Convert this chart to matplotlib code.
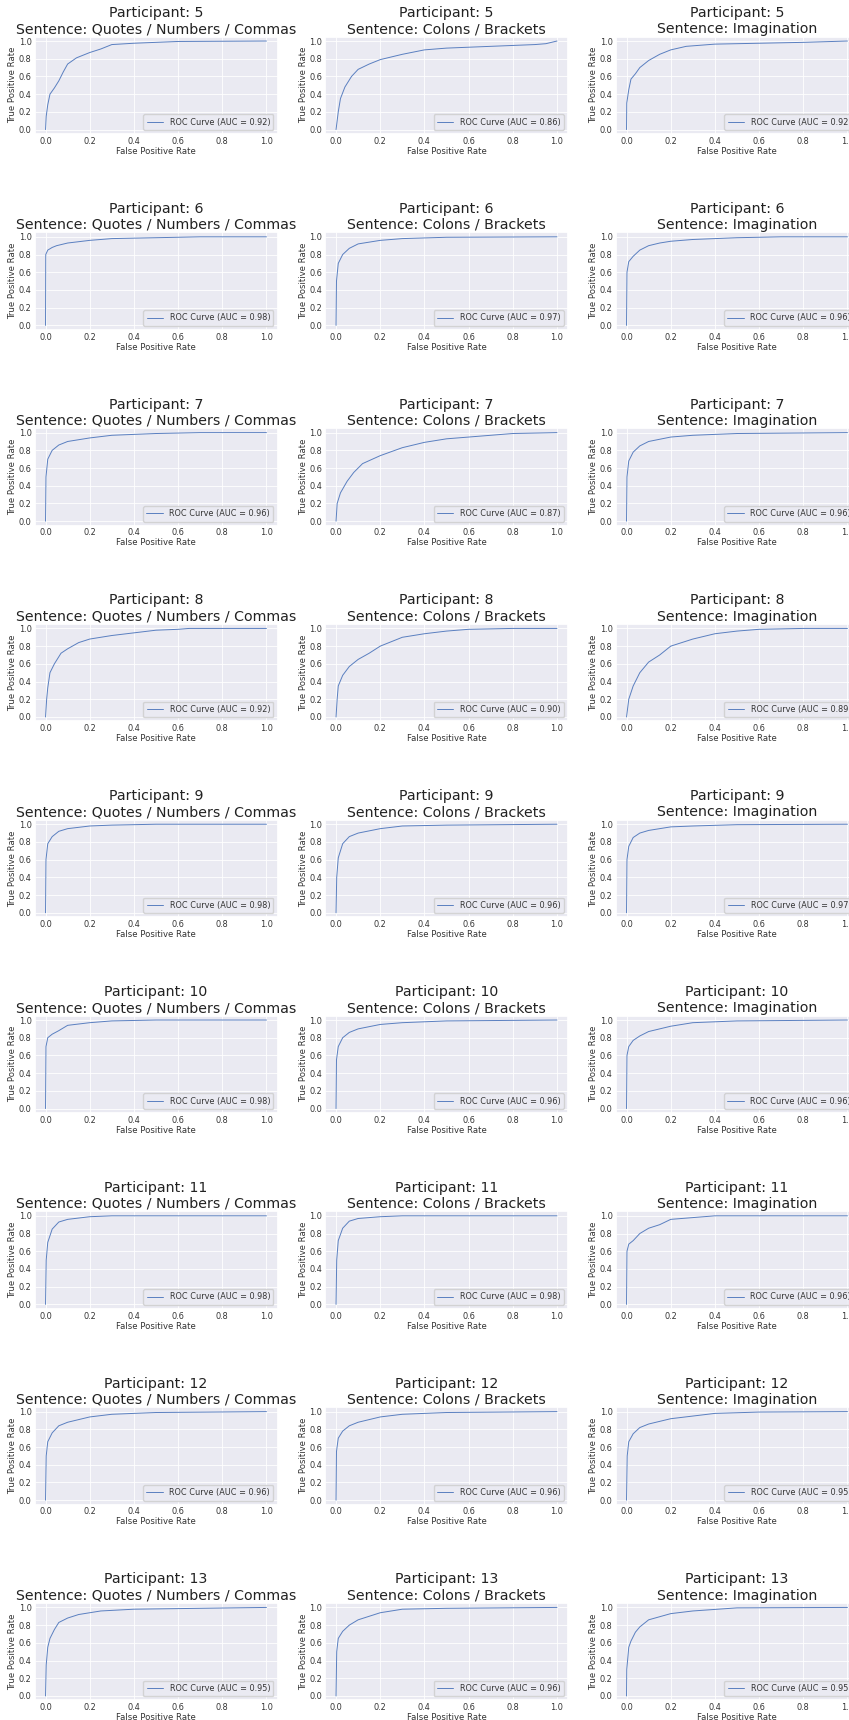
import matplotlib
matplotlib.use("Agg")
import matplotlib.pyplot as plt
import seaborn as sns

sns.set_theme(style="darkgrid")
plt.rcParams['font.family'] = ['DejaVu Sans']
plt.rcParams['grid.linewidth'] = 0.6

participants = [5, 6, 7, 8, 9, 10, 11, 12, 13]
sentences = ["Quotes / Numbers / Commas", "Colons / Brackets", "Imagination"]

auc = [
    [0.92, 0.86, 0.92],
    [0.98, 0.97, 0.96],
    [0.96, 0.87, 0.96],
    [0.92, 0.90, 0.89],
    [0.98, 0.96, 0.97],
    [0.98, 0.96, 0.96],
    [0.98, 0.98, 0.96],
    [0.96, 0.96, 0.95],
    [0.95, 0.96, 0.95],
]

# ROC curves (fpr, tpr)
p5_q_fpr = [0, 0.003, 0.01, 0.02, 0.04, 0.06, 0.08, 0.1, 0.14, 0.2, 0.25, 0.3, 0.4, 0.6, 1.0]
p5_q_tpr = [0, 0.15, 0.28, 0.4, 0.47, 0.55, 0.65, 0.74, 0.81, 0.87, 0.91, 0.96, 0.975, 0.995, 1.0]
p5_c_fpr = [0, 0.01, 0.02, 0.04, 0.07, 0.1, 0.15, 0.2, 0.3, 0.4, 0.5, 0.6, 0.7, 0.8, 0.9, 0.95, 1.0]
p5_c_tpr = [0, 0.2, 0.35, 0.48, 0.6, 0.68, 0.74, 0.79, 0.85, 0.9, 0.92, 0.93, 0.94, 0.95, 0.96, 0.97, 1.0]
p5_i_fpr = [0, 0.001, 0.01, 0.02, 0.04, 0.06, 0.1, 0.15, 0.2, 0.27, 0.4, 0.6, 0.8, 1.0]
p5_i_tpr = [0, 0.3, 0.45, 0.57, 0.63, 0.7, 0.78, 0.85, 0.9, 0.94, 0.965, 0.975, 0.985, 1.0]

p6_q_fpr = [0, 0.001, 0.01, 0.03, 0.05, 0.1, 0.2, 0.3, 0.5, 0.7, 1.0]
p6_q_tpr = [0, 0.8, 0.85, 0.88, 0.9, 0.93, 0.96, 0.98, 0.99, 1.0, 1.0]
p6_c_fpr = [0, 0.002, 0.01, 0.03, 0.06, 0.1, 0.2, 0.3, 0.5, 1.0]
p6_c_tpr = [0, 0.5, 0.7, 0.8, 0.87, 0.92, 0.96, 0.98, 0.995, 1.0]
p6_i_fpr = [0, 0.002, 0.01, 0.03, 0.06, 0.1, 0.15, 0.2, 0.3, 0.5, 0.7, 1.0]
p6_i_tpr = [0, 0.6, 0.72, 0.78, 0.85, 0.9, 0.93, 0.95, 0.97, 0.99, 1.0, 1.0]

p7_q_fpr = [0, 0.002, 0.01, 0.03, 0.06, 0.1, 0.2, 0.3, 0.5, 0.7, 1.0]
p7_q_tpr = [0, 0.5, 0.7, 0.8, 0.86, 0.9, 0.94, 0.97, 0.99, 1.0, 1.0]
p7_c_fpr = [0, 0.005, 0.02, 0.05, 0.08, 0.12, 0.2, 0.3, 0.4, 0.5, 0.6, 0.7, 0.8, 1.0]
p7_c_tpr = [0, 0.2, 0.32, 0.45, 0.55, 0.65, 0.74, 0.83, 0.89, 0.93, 0.95, 0.97, 0.99, 1.0]
p7_i_fpr = [0, 0.002, 0.01, 0.03, 0.06, 0.1, 0.2, 0.3, 0.5, 1.0]
p7_i_tpr = [0, 0.5, 0.68, 0.78, 0.85, 0.9, 0.95, 0.97, 0.99, 1.0]

p8_q_fpr = [0, 0.005, 0.01, 0.02, 0.04, 0.07, 0.1, 0.15, 0.2, 0.3, 0.4, 0.5, 0.6, 0.65, 1.0]
p8_q_tpr = [0, 0.2, 0.33, 0.5, 0.6, 0.72, 0.77, 0.84, 0.88, 0.92, 0.95, 0.98, 0.99, 1.0, 1.0]
p8_c_fpr = [0, 0.005, 0.01, 0.03, 0.06, 0.1, 0.15, 0.2, 0.3, 0.4, 0.5, 0.6, 0.8, 1.0]
p8_c_tpr = [0, 0.2, 0.35, 0.47, 0.57, 0.65, 0.72, 0.8, 0.9, 0.94, 0.97, 0.99, 1.0, 1.0]
p8_i_fpr = [0, 0.01, 0.03, 0.06, 0.1, 0.15, 0.2, 0.3, 0.4, 0.5, 0.6, 0.8, 1.0]
p8_i_tpr = [0, 0.2, 0.35, 0.5, 0.62, 0.7, 0.8, 0.88, 0.94, 0.97, 0.99, 1.0, 1.0]

p9_q_fpr = [0, 0.002, 0.01, 0.03, 0.06, 0.1, 0.2, 0.3, 0.5, 1.0]
p9_q_tpr = [0, 0.6, 0.78, 0.86, 0.92, 0.95, 0.98, 0.99, 1.0, 1.0]
p9_c_fpr = [0, 0.003, 0.01, 0.03, 0.06, 0.1, 0.2, 0.3, 0.5, 1.0]
p9_c_tpr = [0, 0.4, 0.62, 0.78, 0.86, 0.9, 0.95, 0.98, 0.99, 1.0]
p9_i_fpr = [0, 0.002, 0.01, 0.03, 0.06, 0.1, 0.2, 0.3, 0.5, 1.0]
p9_i_tpr = [0, 0.6, 0.75, 0.85, 0.9, 0.93, 0.97, 0.98, 0.995, 1.0]

p10_q_fpr = [0, 0.002, 0.01, 0.03, 0.06, 0.1, 0.2, 0.3, 0.5, 1.0]
p10_q_tpr = [0, 0.7, 0.8, 0.84, 0.88, 0.94, 0.97, 0.99, 1.0, 1.0]
p10_c_fpr = [0, 0.002, 0.01, 0.03, 0.06, 0.1, 0.2, 0.3, 0.5, 1.0]
p10_c_tpr = [0, 0.55, 0.7, 0.8, 0.86, 0.9, 0.95, 0.97, 0.99, 1.0]
p10_i_fpr = [0, 0.002, 0.01, 0.03, 0.06, 0.1, 0.2, 0.3, 0.5, 1.0]
p10_i_tpr = [0, 0.6, 0.7, 0.77, 0.82, 0.87, 0.93, 0.97, 0.99, 1.0]

p11_q_fpr = [0, 0.003, 0.01, 0.03, 0.06, 0.1, 0.2, 0.3, 1.0]
p11_q_tpr = [0, 0.5, 0.7, 0.85, 0.93, 0.96, 0.99, 1.0, 1.0]
p11_c_fpr = [0, 0.003, 0.01, 0.03, 0.06, 0.1, 0.2, 0.3, 1.0]
p11_c_tpr = [0, 0.5, 0.72, 0.86, 0.94, 0.97, 0.99, 1.0, 1.0]
p11_i_fpr = [0, 0.002, 0.01, 0.03, 0.06, 0.1, 0.15, 0.2, 0.3, 0.4, 1.0]
p11_i_tpr = [0, 0.6, 0.68, 0.72, 0.8, 0.86, 0.9, 0.96, 0.98, 1.0, 1.0]

p12_q_fpr = [0, 0.003, 0.01, 0.03, 0.06, 0.1, 0.2, 0.3, 0.5, 1.0]
p12_q_tpr = [0, 0.5, 0.66, 0.76, 0.84, 0.88, 0.94, 0.97, 0.99, 1.0]
p12_c_fpr = [0, 0.002, 0.01, 0.03, 0.06, 0.1, 0.2, 0.3, 0.5, 1.0]
p12_c_tpr = [0, 0.55, 0.7, 0.78, 0.84, 0.88, 0.94, 0.97, 0.99, 1.0]
p12_i_fpr = [0, 0.003, 0.01, 0.03, 0.06, 0.1, 0.2, 0.3, 0.4, 0.6, 1.0]
p12_i_tpr = [0, 0.5, 0.66, 0.75, 0.82, 0.86, 0.92, 0.95, 0.98, 0.995, 1.0]

p13_q_fpr = [0, 0.003, 0.01, 0.02, 0.04, 0.06, 0.1, 0.15, 0.25, 0.4, 0.7, 1.0]
p13_q_tpr = [0, 0.35, 0.55, 0.65, 0.75, 0.83, 0.88, 0.92, 0.96, 0.98, 0.99, 1.0]
p13_c_fpr = [0, 0.003, 0.01, 0.03, 0.06, 0.1, 0.2, 0.3, 0.5, 1.0]
p13_c_tpr = [0, 0.5, 0.65, 0.73, 0.8, 0.86, 0.94, 0.98, 0.99, 1.0]
p13_i_fpr = [0, 0.001, 0.01, 0.02, 0.04, 0.06, 0.1, 0.2, 0.3, 0.5, 1.0]
p13_i_tpr = [0, 0.3, 0.55, 0.62, 0.72, 0.78, 0.86, 0.93, 0.96, 0.995, 1.0]

curves = [
    [(p5_q_fpr, p5_q_tpr), (p5_c_fpr, p5_c_tpr), (p5_i_fpr, p5_i_tpr)],
    [(p6_q_fpr, p6_q_tpr), (p6_c_fpr, p6_c_tpr), (p6_i_fpr, p6_i_tpr)],
    [(p7_q_fpr, p7_q_tpr), (p7_c_fpr, p7_c_tpr), (p7_i_fpr, p7_i_tpr)],
    [(p8_q_fpr, p8_q_tpr), (p8_c_fpr, p8_c_tpr), (p8_i_fpr, p8_i_tpr)],
    [(p9_q_fpr, p9_q_tpr), (p9_c_fpr, p9_c_tpr), (p9_i_fpr, p9_i_tpr)],
    [(p10_q_fpr, p10_q_tpr), (p10_c_fpr, p10_c_tpr), (p10_i_fpr, p10_i_tpr)],
    [(p11_q_fpr, p11_q_tpr), (p11_c_fpr, p11_c_tpr), (p11_i_fpr, p11_i_tpr)],
    [(p12_q_fpr, p12_q_tpr), (p12_c_fpr, p12_c_tpr), (p12_i_fpr, p12_i_tpr)],
    [(p13_q_fpr, p13_q_tpr), (p13_c_fpr, p13_c_tpr), (p13_i_fpr, p13_i_tpr)],
]

W, H = 849, 1720
fig, axes = plt.subplots(9, 3, figsize=(W / 100, H / 100), dpi=100)

ax_w, ax_h = 243.0, 97.4
col_pitch, row_pitch = 290.5, 195.8
left_px, top_px = 34.5, 36.6
fig.subplots_adjust(
    left=left_px / W,
    right=(left_px + 2 * col_pitch + ax_w) / W,
    top=1 - top_px / H,
    bottom=1 - (top_px + 8 * row_pitch + ax_h) / H,
    wspace=(col_pitch - ax_w) / ax_w,
    hspace=(row_pitch - ax_h) / ax_h,
)

line_color = "#5a7fc0"
for r, p in enumerate(participants):
    for c, s in enumerate(sentences):
        ax = axes[r, c]
        fpr, tpr = curves[r][c]
        ax.plot(fpr, tpr, color=line_color, lw=0.7,
                label=f"ROC Curve (AUC = {auc[r][c]:.2f})")
        ax.set_xlim(-0.05, 1.05)
        ax.set_ylim(-0.05, 1.05)
        ax.set_xticks([0, 0.2, 0.4, 0.6, 0.8, 1.0])
        ax.set_yticks([0, 0.2, 0.4, 0.6, 0.8, 1.0])
        ax.tick_params(labelsize=5.9, length=0, pad=2, labelcolor="#333333")
        ax.set_xlabel("False Positive Rate", fontsize=6.1, labelpad=0.8, color="#333333")
        ax.set_ylabel("True Positive Rate", fontsize=6.1, labelpad=1, color="#333333")
        ax.set_title(f"Participant: {p}\nSentence: {s}", fontsize=10.2, pad=2.5,
                     color="#222222")
        ax.legend(loc="lower right", fontsize=5.9, labelcolor="#333333")

fig.savefig("out.png", dpi=100)
